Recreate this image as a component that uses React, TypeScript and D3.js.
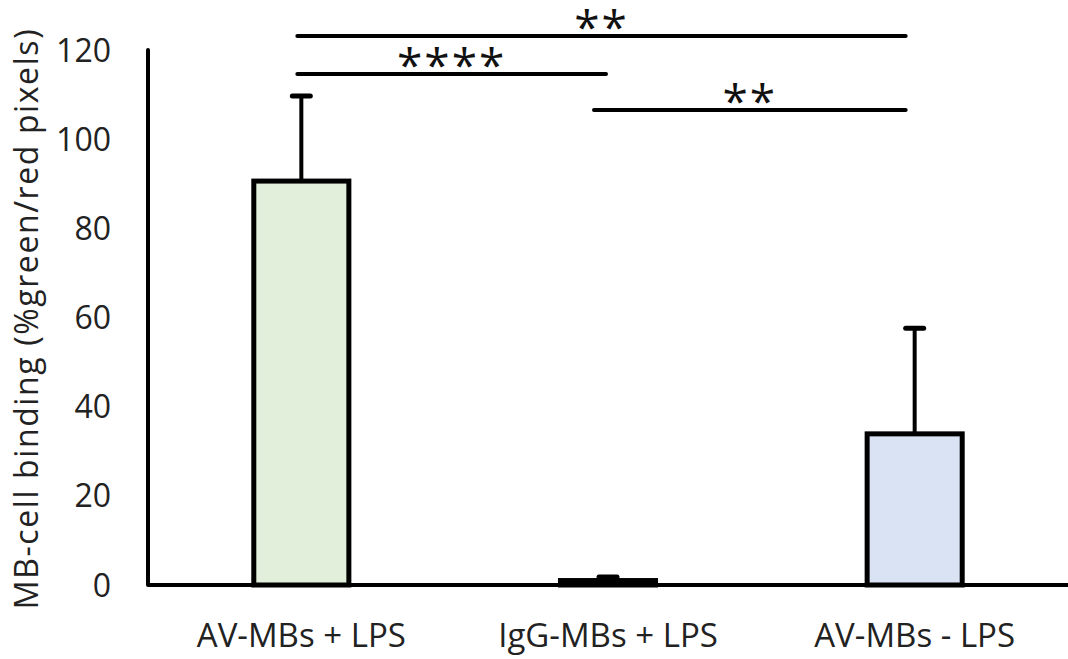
import React from 'react';
import * as d3 from 'd3';

const categories = ['AV-MBs + LPS', 'IgG-MBs + LPS', 'AV-MBs - LPS'];
const means = [90.6, 1.0, 33.9];
const errors = [19.1, 0.8, 23.7];
const fills = ['#e2efda', '#e2efda', '#dae3f3'];
const yTicks = [0, 20, 40, 60, 80, 100, 120];
// pairs of category indices, label, level
const sigPairs: [number, number, string, number][] = [
  [0, 2, '**', 36],
  [0, 1, '****', 74],
  [1, 2, '**', 110],
];

const W = 1068, H = 659;
const left = 148, right = 1068, top = 50, bottom = 585;

const App = () => {
  const x = d3.scaleBand<string>().domain(categories).range([left, right]).paddingInner(0.69).paddingOuter(0.345);
  const y = d3.scaleLinear().domain([0, 120]).range([bottom, top]);
  const bw = x.bandwidth();
  const cx = (i: number) => (x(categories[i]) as number) + bw / 2;
  const font = '"Open Sans", "Noto Sans", sans-serif';

  return (
    <svg width={W} height={H} style={{ position: 'absolute', left: 0, top: 0 }} fontFamily={font}>
      <rect width={W} height={H} fill="#fff" />
      {/* bars */}
      {means.map((m, i) => (
        <g key={i}>
          <line x1={cx(i)} x2={cx(i)} y1={y(m)} y2={y(m + errors[i])} stroke="#000" strokeWidth={4} />
          <line x1={cx(i) - 9} x2={cx(i) + 9} y1={y(m + errors[i])} y2={y(m + errors[i])} stroke="#000" strokeWidth={5} strokeLinecap="round" />
          <rect x={x(categories[i])} y={y(m)} width={bw} height={bottom - y(m)} fill={fills[i]} stroke="#000" strokeWidth={5} />
        </g>
      ))}
      {/* axes */}
      <line x1={left} x2={left} y1={top} y2={bottom} stroke="#000" strokeWidth={4} strokeLinecap="round" />
      <line x1={left} x2={right} y1={bottom} y2={bottom} stroke="#000" strokeWidth={4} />
      {yTicks.map(t => (
        <text key={t} x={left - 37} y={y(t)} dy="0.36em" textAnchor="end" fontSize={32} fill="#222">{t}</text>
      ))}
      {categories.map((c, i) => (
        <text key={c} x={cx(i)} y={bottom + 62} textAnchor="middle" fontSize={33} fill="#222">{c}</text>
      ))}
      <text transform={`translate(38,${(top + bottom) / 2 + 1}) rotate(-90)`} textAnchor="middle" fontSize={32} letterSpacing={1.6} fill="#222">
        MB-cell binding (%green/red pixels)
      </text>
      {/* significance */}
      {sigPairs.map(([a, b, lab, ly], k) => {
        const x1 = cx(a) - 4 + (a === 1 ? -10 : 0);
        const x2 = cx(b) - (b === 2 ? 9 : 2);
        return (
          <g key={k}>
            <line x1={x1} x2={x2} y1={ly} y2={ly} stroke="#000" strokeWidth={4} strokeLinecap="round" />
            <text x={(x1 + x2) / 2} y={ly + 8} textAnchor="middle" fontSize={46} letterSpacing={2} fill="#111">{lab}</text>
          </g>
        );
      })}
    </svg>
  );
};

export default App;
